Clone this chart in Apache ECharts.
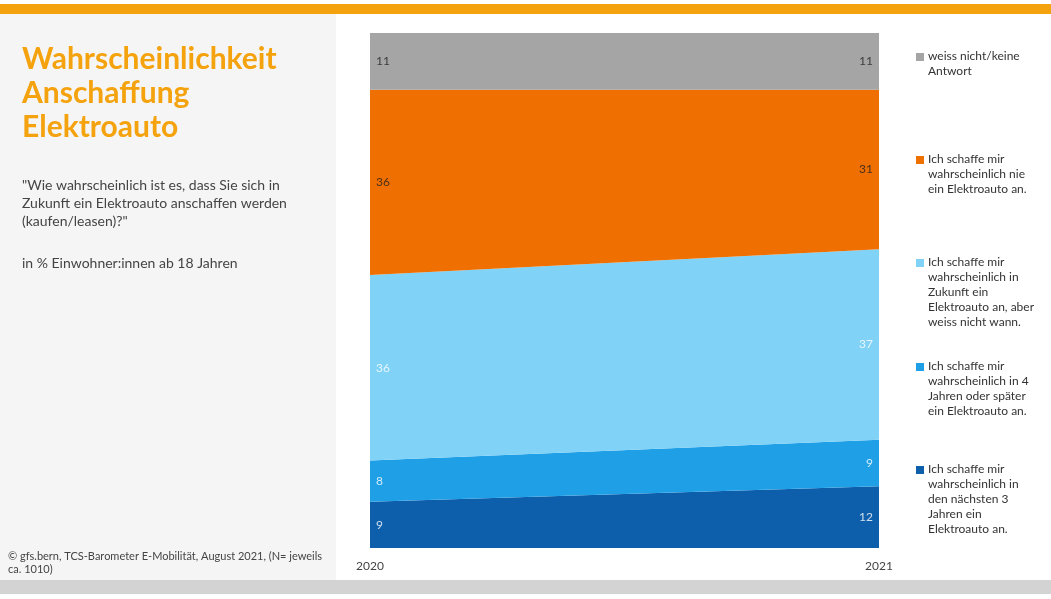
<!DOCTYPE html>
<html><head><meta charset="utf-8">
<script src="https://cdn.jsdelivr.net/npm/echarts@6/dist/echarts.min.js"></script>
<style>html,body{margin:0;padding:0;background:#fff}#c{width:1051px;height:599px}</style>
</head><body><div id="c"></div>
<script>
const years = ['2020', '2021']
const seriesNames = [
  'Ich schaffe mir\nwahrscheinlich in\nden nächsten 3\nJahren ein\nElektroauto an.',
  'Ich schaffe mir\nwahrscheinlich in 4\nJahren oder später\nein Elektroauto an.',
  'Ich schaffe mir\nwahrscheinlich in\nZukunft ein\nElektroauto an, aber\nweiss nicht wann.',
  'Ich schaffe mir\nwahrscheinlich nie\nein Elektroauto an.',
  'weiss nicht/keine\nAntwort'
]
const values = [
  [9, 12],
  [8, 9],
  [36, 37],
  [36, 31],
  [11, 11]
]
const colors = ['#0d5eab', '#1f9fe6', '#80d2f7', '#ef6f00', '#a5a5a5']
const labelColors = ['#fff', '#fff', '#fff', '#222', '#222']
const legendY = [470, 367, 263, 160, 57]

const chart = echarts.init(document.getElementById('c'))

// stacked areas
const series = values.map((v, i) => ({
  name: seriesNames[i], type: 'line', stack: 'all', data: v,
  symbol: 'none', lineStyle: { width: 0 },
  areaStyle: { color: colors[i], opacity: 1 }, z: 1
}))

// value labels in the middle of each band
values.forEach((v, i) => {
  const mids = v.map((val, j) => {
    let below = 0
    for (let k = 0; k < i; k++) below += values[k][j]
    return below + val / 2
  })
  series.push({
    type: 'scatter', symbolSize: 0, z: 5, data: mids.map((m, j) => ({
      value: [j, m],
      label: {
        show: true, formatter: String(v[j]), color: labelColors[i],
        position: j === 0 ? 'right' : 'left', distance: 6,
        fontSize: 12, fontFamily: 'Lato'
      }
    }))
  })
})

const graphic = [
  { type: 'rect', shape: { x: 0, y: 4, width: 1051, height: 10 }, style: { fill: '#f4a30f' } },
  { type: 'rect', shape: { x: 0, y: 14, width: 336, height: 566 }, style: { fill: '#f5f5f5' }, z: -10 },
  { type: 'rect', shape: { x: 0, y: 580, width: 1051, height: 14 }, style: { fill: '#d3d3d3' } },
  { type: 'text', left: 22, top: 42, style: { text: 'Wahrscheinlichkeit\nAnschaffung\nElektroauto', fill: '#f4a30f', font: 'bold 30px Lato', lineHeight: 34 } },
  { type: 'text', left: 22, top: 176, style: { text: '"Wie wahrscheinlich ist es, dass Sie sich in\nZukunft ein Elektroauto anschaffen werden\n(kaufen/leasen)?"', fill: '#444', font: '14px Lato', lineHeight: 18 } },
  { type: 'text', left: 22, top: 256, style: { text: 'in % Einwohner:innen ab 18 Jahren', fill: '#444', font: '14px Lato' } },
  { type: 'text', left: 8, top: 550, style: { text: '© gfs.bern, TCS-Barometer E-Mobilität, August 2021, (N= jeweils\nca. 1010)', fill: '#444', font: '11px Lato', lineHeight: 13 } }
]
seriesNames.forEach((n, i) => {
  graphic.push({ type: 'rect', shape: { x: 916, y: legendY[i] - 4, width: 8, height: 8 }, style: { fill: colors[i] } })
  graphic.push({ type: 'text', left: 928, top: legendY[i] - 8, style: { text: n, fill: '#333', font: '12px Lato', lineHeight: 15 } })
})

chart.setOption({
  animation: false,
  grid: { left: 370, right: 172, top: 33, bottom: 51 },
  xAxis: {
    type: 'category', data: years, boundaryGap: false,
    axisLine: { show: false }, axisTick: { show: false },
    axisLabel: { color: '#444', fontSize: 12, fontFamily: 'Lato', margin: 12 }
  },
  yAxis: { type: 'value', min: 0, max: 100, show: false, splitLine: { show: false } },
  graphic,
  series
})
</script></body></html>
